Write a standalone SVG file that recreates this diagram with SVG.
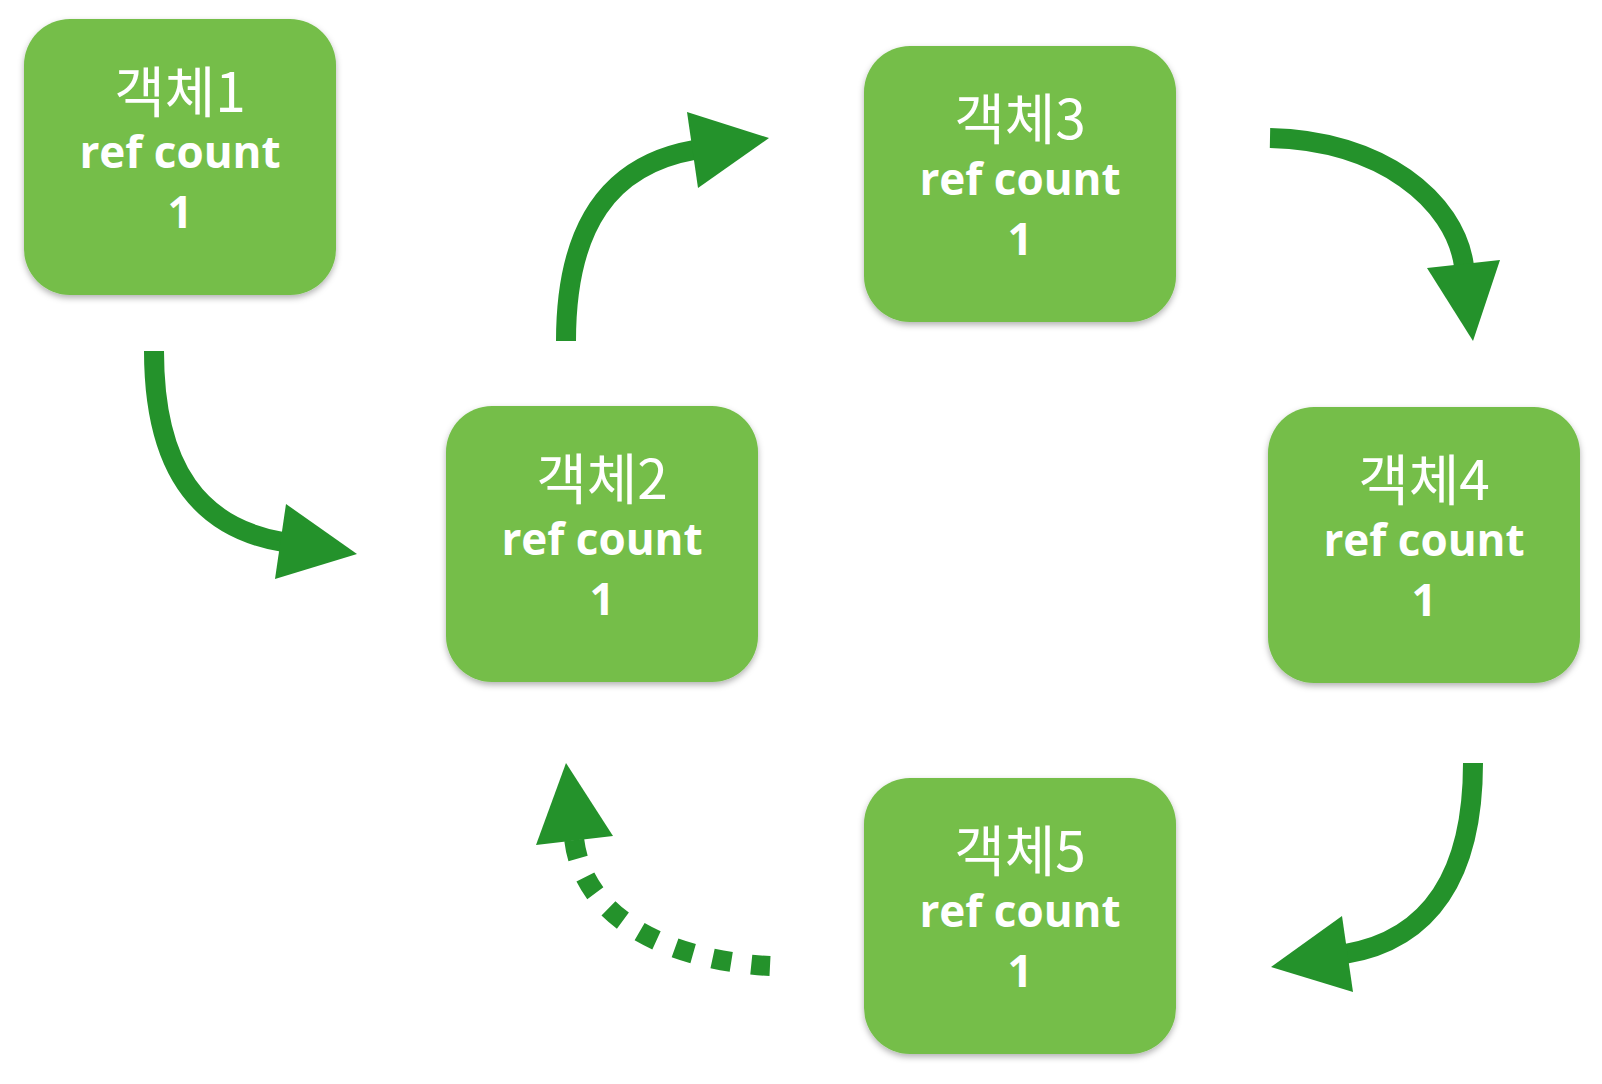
<svg xmlns="http://www.w3.org/2000/svg" width="1602" height="1084" viewBox="0 0 1602 1084">
<style>
.box{fill:#74BE4A;filter:url(#sh)}
.t1{font-family:"Noto Sans CJK KR","Noto Sans",sans-serif;font-weight:400;font-size:55px;fill:#fff;text-anchor:middle}
.t2{font-family:"Open Sans","Noto Sans",sans-serif;font-weight:700;font-size:44px;fill:#fff;text-anchor:middle}
.ln{fill:none;stroke:#24922B;stroke-width:20}
.dash{stroke-dasharray:19 20}
.head{fill:#24922B}
</style>
<defs>
<filter id="sh" x="-10%" y="-10%" width="120%" height="125%">
<feDropShadow dx="0" dy="3" stdDeviation="3" flood-color="#000" flood-opacity="0.3"/>
</filter>
</defs>
<rect width="1602" height="1084" fill="#fff"/>
<g id="node1">
<rect class="box" x="24" y="19" width="312" height="276" rx="46"/>
<text class="t1" x="180" y="112">객체1</text>
<text class="t2" x="180" y="168">ref count</text>
<text class="t2" x="180" y="228">1</text>
</g>
<g id="node2">
<rect class="box" x="446" y="406" width="312" height="276" rx="46"/>
<text class="t1" x="602" y="499">객체2</text>
<text class="t2" x="602" y="555">ref count</text>
<text class="t2" x="602" y="615">1</text>
</g>
<g id="node3">
<rect class="box" x="864" y="46" width="312" height="276" rx="46"/>
<text class="t1" x="1020" y="139">객체3</text>
<text class="t2" x="1020" y="195">ref count</text>
<text class="t2" x="1020" y="255">1</text>
</g>
<g id="node4">
<rect class="box" x="1268" y="407" width="312" height="276" rx="46"/>
<text class="t1" x="1424" y="500">객체4</text>
<text class="t2" x="1424" y="556">ref count</text>
<text class="t2" x="1424" y="616">1</text>
</g>
<g id="node5">
<rect class="box" x="864" y="778" width="312" height="276" rx="46"/>
<text class="t1" x="1020" y="871">객체5</text>
<text class="t2" x="1020" y="927">ref count</text>
<text class="t2" x="1020" y="987">1</text>
</g>
<g id="connectors">
<path class="ln" d="M154,351 C154,470 200,528 283,542"/>
<polygon class="head" points="357,554 286,504 275,579"/>
<path class="ln" d="M566,341 C566,225 610,165 694,150"/>
<polygon class="head" points="769,138 687,112 698,188"/>
<path class="ln" d="M1270,138 C1380,140 1455,200 1464,266"/>
<polygon class="head" points="1473,341 1427,268 1500,260"/>
<path class="ln" d="M1473,763 C1473,875 1430,940 1345,954"/>
<polygon class="head" points="1271,967 1342,916 1353,992"/>
<path class="ln dash" d="M770,966 C690,962 584,930 574,838"/>
<polygon class="head" points="566,763 536,845 613,836"/>
</g>
</svg>
